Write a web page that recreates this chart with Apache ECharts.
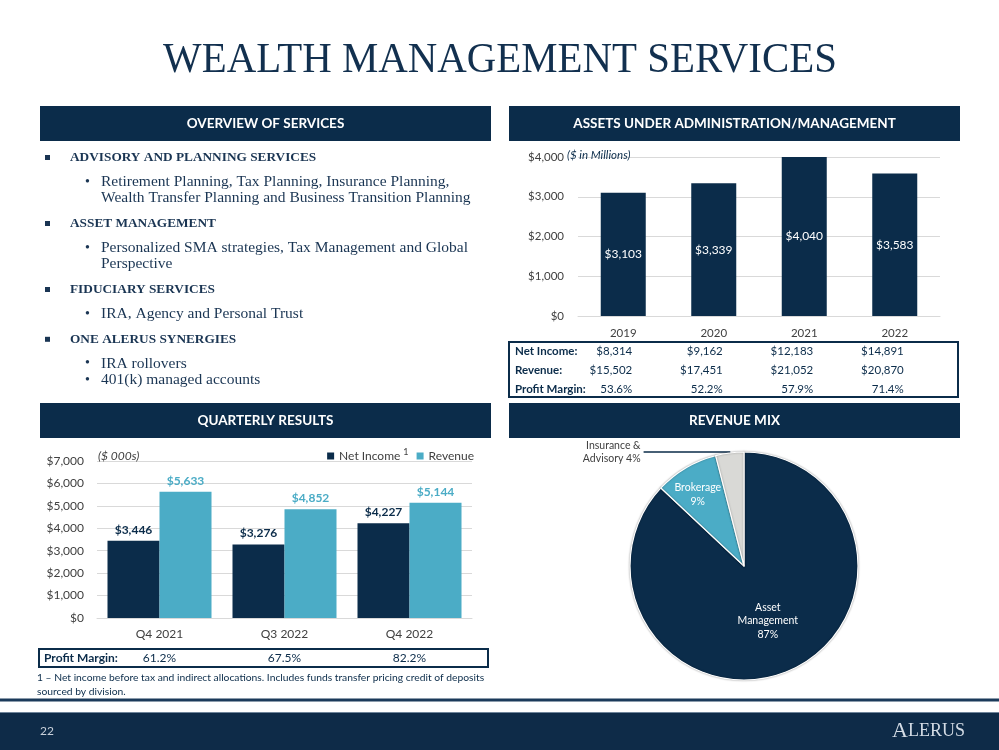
<!DOCTYPE html>
<html><head><meta charset="utf-8">
<script src="https://cdn.jsdelivr.net/npm/echarts@6/dist/echarts.min.js"></script>
<style>html,body{margin:0;padding:0;background:#fff}#c{width:999px;height:750px}</style>
</head><body><div id="c"></div>
<script>
// ---------- data ----------
const years = ['2019', '2020', '2021', '2022'];
const aumValues = [3103, 3339, 4040, 3583];
const annualNetIncome = [8314, 9162, 12183, 14891];
const annualRevenue = [15502, 17451, 21052, 20870];
const annualMargin = ['53.6%', '52.2%', '57.9%', '71.4%'];
const quarters = ['Q4 2021', 'Q3 2022', 'Q4 2022'];
const qNetIncome = [3446, 3276, 4227];
const qRevenue = [5633, 4852, 5144];
const qMargin = ['61.2%', '67.5%', '82.2%'];
const mixNames = ['Asset\nManagement', 'Brokerage', 'Insurance &\nAdvisory'];
const mixValues = [87, 9, 4];
const overviewHeads = ['ADVISORY AND PLANNING SERVICES', 'ASSET MANAGEMENT', 'FIDUCIARY SERVICES', 'ONE ALERUS SYNERGIES'];
const overviewItems = [
  ['Retirement Planning, Tax Planning, Insurance Planning,\nWealth Transfer Planning and Business Transition Planning'],
  ['Personalized SMA strategies, Tax Management and Global\nPerspective'],
  ['IRA, Agency and Personal Trust'],
  ['IRA rollovers', '401(k) managed accounts']
];

// ---------- style ----------
const NAVY = '#0B2C4A';
const TEAL = '#4BACC6';
const GRAY = '#D9D9D6';
const AX = '#404040';
const SANS = 'Lato';
const SERIF = '"Liberation Serif"';
const fmt = v => '$' + v.toLocaleString('en-US');

const chart = echarts.init(document.getElementById('c'), null, {renderer: 'canvas'});

const option = {
  animation: false,
  backgroundColor: '#fff',
  textStyle: {fontFamily: SANS},
  grid: [
    {left: 578, right: 59, top: 157, bottom: 434},
    {left: 97, right: 527, top: 461, bottom: 132}
  ],
  xAxis: [
    {gridIndex: 0, type: 'category', data: years, axisTick: {show: false},
     axisLine: {lineStyle: {color: '#D9D9D9'}},
     axisLabel: {color: AX, fontSize: 11.5, margin: 11, fontFamily: SANS}},
    {gridIndex: 1, type: 'category', data: quarters, axisTick: {show: false},
     axisLine: {lineStyle: {color: '#D9D9D9'}},
     axisLabel: {color: AX, fontSize: 12, margin: 10, fontFamily: SANS}}
  ],
  yAxis: [
    {gridIndex: 0, type: 'value', min: 0, max: 4000, interval: 1000,
     axisLine: {show: false}, axisTick: {show: false},
     splitLine: {lineStyle: {color: '#D9D9D9'}},
     axisLabel: {formatter: fmt, color: AX, fontSize: 11.5, margin: 14, fontFamily: SANS}},
    {gridIndex: 1, type: 'value', min: 0, max: 7000, interval: 1000,
     axisLine: {show: false}, axisTick: {show: false},
     splitLine: {lineStyle: {color: '#D9D9D9'}},
     axisLabel: {formatter: fmt, color: AX, fontSize: 12, margin: 13, fontFamily: SANS}}
  ],
  legend: {
    data: ['Net Income', 'Revenue'], right: 525, top: 448, padding: 0,
    itemWidth: 7, itemHeight: 7, itemGap: 8, icon: 'rect',
    formatter: n => n === 'Net Income' ? '{n|' + n + '}{s|1}' : '{n|' + n + '}',
    textStyle: {
      color: AX, fontSize: 12, fontFamily: SANS,
      rich: {
        n: {fontSize: 12, color: AX, fontFamily: SANS, lineHeight: 16},
        s: {fontSize: 9, color: AX, fontFamily: SANS, lineHeight: 9, verticalAlign: 'top', padding: [0, 0, 0, 3]}
      }
    }
  },
  series: [
    {type: 'bar', name: 'AUM', xAxisIndex: 0, yAxisIndex: 0, data: aumValues, barWidth: 45,
     itemStyle: {color: NAVY},
     label: {show: true, position: 'inside', color: '#fff', fontSize: 12, fontFamily: SANS,
             formatter: p => fmt(p.value)}},
    {type: 'bar', name: 'Net Income', xAxisIndex: 1, yAxisIndex: 1, data: qNetIncome, barWidth: 52, barGap: '0%',
     itemStyle: {color: NAVY},
     label: {show: true, position: 'top', distance: 5, color: NAVY, fontWeight: 'bold', fontSize: 12,
             fontFamily: SANS, formatter: p => fmt(p.value)}},
    {type: 'bar', name: 'Revenue', xAxisIndex: 1, yAxisIndex: 1, data: qRevenue, barWidth: 52, barGap: '0%',
     itemStyle: {color: TEAL},
     label: {show: true, position: 'top', distance: 5, color: TEAL, fontWeight: 'bold', fontSize: 12,
             fontFamily: SANS, formatter: p => fmt(p.value)}},
    {type: 'pie', center: [744, 566], radius: 114, startAngle: 90, clockwise: true,
     avoidLabelOverlap: false, silent: true,
     itemStyle: {borderColor: '#fff', borderWidth: 1.2, shadowBlur: 2, shadowColor: 'rgba(0,0,0,0.35)'},
     data: mixNames.map((n, i) => {
       const colors = [NAVY, TEAL, GRAY];
       const d = {name: n, value: mixValues[i], itemStyle: {color: colors[i]}};
       if (i === 0) {
         d.label = {show: true, position: 'inside', color: '#fff', fontSize: 10.5, lineHeight: 13.3,
                    fontFamily: SANS, formatter: p => p.name + '\n' + p.value + '%'};
       } else if (i === 2) {
         d.label = {show: true, position: 'outside', color: AX, fontSize: 10.5, lineHeight: 13.3,
                    fontFamily: SANS, align: 'right', padding: [14, 0, 0, 0], distanceToLabelLine: 3,
                    formatter: p => p.name + ' ' + p.value + '%'};
         d.labelLine = {show: true, length: 1, length2: 86, lineStyle: {color: NAVY, width: 1.5}};
       } else {
         d.label = {show: false};
       }
       return d;
     })},
    {type: 'pie', center: [744, 566], radius: 160, startAngle: 90, clockwise: true,
     silent: true, z: 5,
     itemStyle: {color: 'rgba(0,0,0,0)'},
     data: mixNames.map((n, i) => ({
       name: n, value: mixValues[i],
       label: i === 1 ? {show: true, position: 'inside', color: '#fff', fontSize: 10.5, lineHeight: 13.5,
                         fontFamily: SANS, padding: [0, 8, 0, 0],
                         formatter: p => p.name + '\n' + p.value + '%'} : {show: false},
       labelLine: {show: false}
     }))}
  ]
};
chart.setOption(option);

// ---------- decorations and text (positions use the axes' own scales) ----------
const g = [];
const txt = (x, y, text, o) => g.push({type: 'text', x: x, y: y, silent: true,
  style: Object.assign({text: text, fill: NAVY, fontFamily: SANS, fontSize: 12, align: 'left', verticalAlign: 'middle'}, o || {})});
const rect = (x, y, w, h, st) => g.push({type: 'rect', silent: true, shape: {x: x, y: y, width: w, height: h}, style: st});

// title
g.push({type: 'text', x: 500, y: 61, scaleX: 0.95, silent: true,
  style: {text: 'WEALTH MANAGEMENT SERVICES', fill: '#12304F', fontFamily: SERIF, fontSize: 43,
          align: 'center', verticalAlign: 'middle'}});

// section headers
const headers = [
  [40, 106, 'OVERVIEW OF SERVICES'], [509, 106, 'ASSETS UNDER ADMINISTRATION/MANAGEMENT'],
  [40, 403, 'QUARTERLY RESULTS'], [509, 403, 'REVENUE MIX']
];
headers.forEach(h => {
  rect(h[0], h[1], 451, 35, {fill: NAVY});
  txt(h[0] + 225.5, h[1] + 18, h[2], {fill: '#fff', fontWeight: 'bold', fontSize: 13.5, align: 'center'});
});

// overview list
let y = 158;
overviewHeads.forEach((head, gi) => {
  rect(45, y - 3, 5, 5, {fill: '#1A3553'});
  txt(70, y, head, {fill: '#1A3553', fontFamily: SERIF, fontWeight: 'bold', fontSize: 13.3});
  y += 24;
  let last = y;
  overviewItems[gi].forEach(item => {
    item.split('\n').forEach((line, li) => {
      if (li === 0) txt(85, y, '•', {fill: '#1A3553', fontFamily: SERIF, fontSize: 14});
      txt(101, y, line, {fill: '#1A3553', fontFamily: SERIF, fontSize: 15.5});
      last = y;
      y += 16.2;
    });
  });
  y = last + 25.8;
});

// ($ in Millions)
txt(567, 155, '($ in Millions)', {fontStyle: 'italic', fontSize: 11.5, fill: NAVY});

// annual table
rect(509, 342, 449, 55, {fill: 'none', stroke: NAVY, lineWidth: 2});
const rowsY = [351, 370, 389];
['Net Income:', 'Revenue:', 'Profit Margin:'].forEach((l, i) =>
  txt(515, rowsY[i], l, {fontWeight: 'bold', fontSize: 11.5}));
years.forEach((yr, i) => {
  const cx = chart.convertToPixel({xAxisIndex: 0}, yr);
  txt(cx + 9, rowsY[0], fmt(annualNetIncome[i]), {fontSize: 11.5, align: 'right'});
  txt(cx + 9, rowsY[1], fmt(annualRevenue[i]), {fontSize: 11.5, align: 'right'});
  txt(cx + 9, rowsY[2], annualMargin[i], {fontSize: 11.5, align: 'right'});
});

// ($ 000s)
txt(98, 456, '($ 000s)', {fontStyle: 'italic', fontSize: 12, fill: AX});

// quarterly margin box
rect(39, 649, 449, 18, {fill: 'none', stroke: NAVY, lineWidth: 2});
txt(44, 658, 'Profit Margin:', {fontWeight: 'bold', fontSize: 12});
quarters.forEach((q, i) => {
  const cx = chart.convertToPixel({xAxisIndex: 1}, q);
  txt(cx, 658, qMargin[i], {fontSize: 12, align: 'center'});
});

// footnote
txt(37, 678, '1 \u2013 Net income before tax and indirect allocations. Includes funds transfer pricing credit of deposits', {fontSize: 10.3});
txt(37, 692, 'sourced by division.', {fontSize: 10.3});

// footer
rect(0, 698.5, 999, 3, {fill: '#1B3A5A'});
rect(0, 712.5, 999, 37.5, {fill: '#0E2B48'});
rect(0, 712, 999, 1, {fill: '#6F849A'});
txt(40, 731, '22', {fill: '#C8D0DA', fontSize: 12});
g.push({type: 'text', x: 965, y: 731, silent: true,
  style: {text: '{a|A}{b|LERUS}', align: 'right', verticalAlign: 'middle',
          rich: {a: {fontFamily: SERIF, fontSize: 22, fill: '#D4DCE5'},
                 b: {fontFamily: SERIF, fontSize: 18, fill: '#D4DCE5'}}}});

chart.setOption({graphic: {elements: g}});
</script>
</body></html>
